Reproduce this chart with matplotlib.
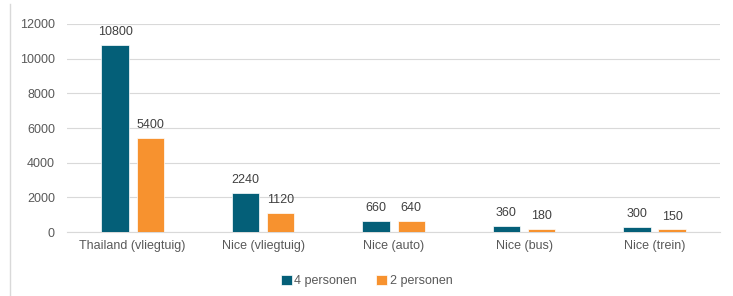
import matplotlib
matplotlib.use("Agg")
import matplotlib.pyplot as plt
import numpy as np
from matplotlib.lines import Line2D

categories = ["Thailand (vliegtuig)", "Nice (vliegtuig)", "Nice (auto)", "Nice (bus)", "Nice (trein)"]
series_names = ["4 personen", "2 personen"]
vals_4 = [10800, 2240, 660, 360, 300]
vals_2 = [5400, 1120, 640, 180, 150]
yticks = [0, 2000, 4000, 6000, 8000, 10000, 12000]

blue = "#045F78"
orange = "#F7922F"
txt = "#595959"

plt.rcParams['font.family'] = ['Liberation Sans', 'DejaVu Sans']

fig = plt.figure(figsize=(7.33, 2.96), dpi=100)
ax = fig.add_axes([0.092, 0.216, 0.89, 0.703])

x = np.arange(len(categories))
w = 0.21
off = 0.135
b1 = ax.bar(x - off, vals_4, w, color=blue, label=series_names[0], zorder=3, edgecolor="white", linewidth=0.5)
b2 = ax.bar(x + off, vals_2, w, color=orange, label=series_names[1], zorder=3, edgecolor="white", linewidth=0.5)
for bars in (b1, b2):
    for r in bars:
        ax.annotate(f"{int(r.get_height())}", (r.get_x() + r.get_width() / 2, r.get_height()),
                    xytext=(0, 5), textcoords="offset points", ha="center", va="bottom",
                    fontsize=9, color="#404040")

ax.set_ylim(0, 12000)
ax.set_xlim(-0.5, len(categories) - 0.5)
ax.set_yticks(yticks)
ax.set_yticklabels([str(t) for t in yticks])
ax.set_xticks(x)
ax.set_xticklabels(categories)
ax.tick_params(axis="both", length=0, colors=txt, labelsize=9)
ax.tick_params(axis="y", pad=9)
ax.tick_params(axis="x", pad=6)
ax.grid(axis="y", color="#d9d9d9", linewidth=0.8, zorder=0)
for s in ["top", "right", "left"]:
    ax.spines[s].set_visible(False)
ax.spines["bottom"].set_color("#d9d9d9")

leg = fig.legend(handles=[b1, b2], labels=series_names, loc="center", bbox_to_anchor=(0.5, 0.05),
                 ncol=2, frameon=False, fontsize=9, handlelength=0.9, handleheight=0.9,
                 handletextpad=0.2, columnspacing=1.5)
for t in leg.get_texts():
    t.set_color(txt)

fig.add_artist(Line2D([10 / 733, 10 / 733], [0, 0.985], transform=fig.transFigure, color="#d9d9d9", linewidth=1))

fig.savefig("out.png", dpi=100)
